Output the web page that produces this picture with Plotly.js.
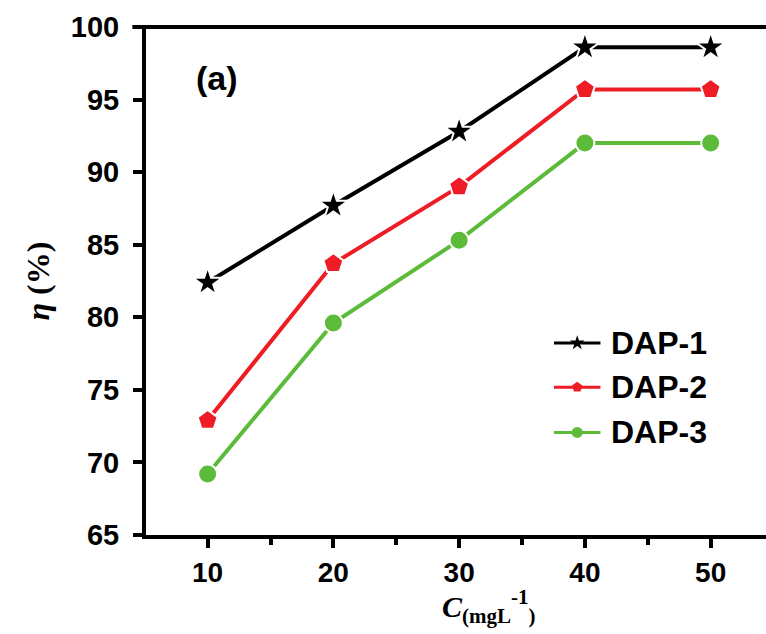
<!DOCTYPE html>
<html>
<head>
<meta charset="utf-8">
<script src="https://cdn.plot.ly/plotly-3.0.1.min.js"></script>
<style>html,body{margin:0;padding:0;background:#fff;}#chart{width:766px;height:634px;}</style>
</head>
<body>
<div id="chart"></div>
<script>
const concentrations = [10, 20, 30, 40, 50];
const dap1 = [82.4, 87.7, 92.8, 98.6, 98.6];
const dap2 = [72.9, 83.7, 89.0, 95.7, 95.7];
const dap3 = [69.2, 79.6, 85.3, 92.0, 92.0];
const seriesNames = ['DAP-1', 'DAP-2', 'DAP-3'];
const xTicks = [10, 20, 30, 40, 50];
const yTicks = [65, 70, 75, 80, 85, 90, 95, 100];

const common = {x: concentrations, mode: 'lines+markers', type: 'scatter', showlegend: false};
const traces = [
  Object.assign({}, common, {y: dap1, name: seriesNames[0], line: {color: '#000000', width: 4},
    marker: {symbol: 'star', size: 22, color: '#000000', line: {color: '#ffffff', width: 2}}}),
  Object.assign({}, common, {y: dap2, name: seriesNames[1], line: {color: '#ee1c24', width: 4},
    marker: {symbol: 'pentagon', size: 21, color: '#ee1c24', line: {color: '#ffffff', width: 2}}}),
  Object.assign({}, common, {y: dap3, name: seriesNames[2], line: {color: '#5dbb3a', width: 4},
    marker: {symbol: 'circle', size: 19, color: '#5dbb3a', line: {color: '#ffffff', width: 2}}})
];

const legY = [0.378, 0.291, 0.202];
const legColors = ['#000000', '#ee1c24', '#5dbb3a'];
const legSymbols = ['star', 'pentagon', 'circle'];
const legX0 = 0.658, legX1 = 0.733;
const shapes = [];
const annotations = [];
seriesNames.forEach((n, i) => {
  shapes.push({type: 'line', xref: 'paper', yref: 'paper', x0: legX0, x1: legX1, y0: legY[i], y1: legY[i],
    line: {color: legColors[i], width: 3}});
  traces.push({x: [(legX0 + legX1) / 2], y: [legY[i]], xaxis: 'x2', yaxis: 'y2', mode: 'markers', type: 'scatter',
    showlegend: false, hoverinfo: 'skip',
    marker: {symbol: legSymbols[i], size: 11, color: legColors[i]}});
  annotations.push({xref: 'paper', yref: 'paper', x: legX1 + 0.014, y: legY[i], xanchor: 'left', yanchor: 'middle',
    text: '<b>' + n + '</b>', showarrow: false, font: {family: 'Liberation Sans, Arial', size: 32, color: '#000'}});
});
annotations.push({xref: 'paper', yref: 'paper', x: 0.078, y: 0.9, xanchor: 'left', yanchor: 'middle',
  text: '<b>(a)</b>', showarrow: false, font: {family: 'Liberation Sans, Arial', size: 34, color: '#000'}});
annotations.push({xref: 'paper', yref: 'paper', x: 0.553, y: -0.14, xanchor: 'center', yanchor: 'middle',
  text: '<b><i>C</i></b><sub><b>(mgL</b></sub><sup><b>-1</b></sup><sub><b>)</b></sub>', showarrow: false,
  font: {family: 'Liberation Serif, Times New Roman', size: 30, color: '#000'}});
annotations.push({xref: 'paper', yref: 'paper', x: -0.175, y: 0.5, xanchor: 'center', yanchor: 'middle', textangle: -90,
  text: '<b><i>η</i></b> <b>(%)</b>', showarrow: false,
  font: {family: 'Liberation Serif, Times New Roman', size: 32, color: '#000'}});

const layout = {
  width: 766, height: 634,
  margin: {l: 146, r: 0, t: 27, b: 99},
  paper_bgcolor: '#ffffff', plot_bgcolor: '#ffffff',
  showlegend: false,
  xaxis: {range: [5.1, 54.4], tickvals: xTicks, ticktext: xTicks.map(String), showgrid: false, zeroline: false,
    showline: true, linecolor: '#000', linewidth: 4, mirror: false,
    ticks: 'outside', ticklen: 9, tickwidth: 4, tickcolor: '#000',
    minor: {dtick: 10, tick0: 5, ticks: 'outside', ticklen: 6, tickwidth: 4, tickcolor: '#000', showgrid: false},
    tickfont: {family: 'Liberation Sans, Arial', size: 28, color: '#000', weight: 'bold'}},
  yaxis: {range: [65, 100], tickvals: yTicks, ticktext: yTicks.map(String), showgrid: false, zeroline: false,
    showline: true, linecolor: '#000', linewidth: 4,
    ticks: 'outside', ticklen: 9, tickwidth: 4, tickcolor: '#000', ticklabelstandoff: 8,
    tickfont: {family: 'Liberation Sans, Arial', size: 29, color: '#000', weight: 'bold'}},
  xaxis2: {range: [0, 1], overlaying: 'x', visible: false, fixedrange: true},
  yaxis2: {range: [0, 1], overlaying: 'y', visible: false, fixedrange: true},
  shapes: shapes.concat([{type: 'line', xref: 'paper', yref: 'paper', x0: -0.022, x1: 1, y0: 1, y1: 1,
    line: {color: '#000', width: 4}}]),
  annotations: annotations
};
Plotly.newPlot('chart', traces, layout, {displayModeBar: false, staticPlot: true});
</script>
</body>
</html>
